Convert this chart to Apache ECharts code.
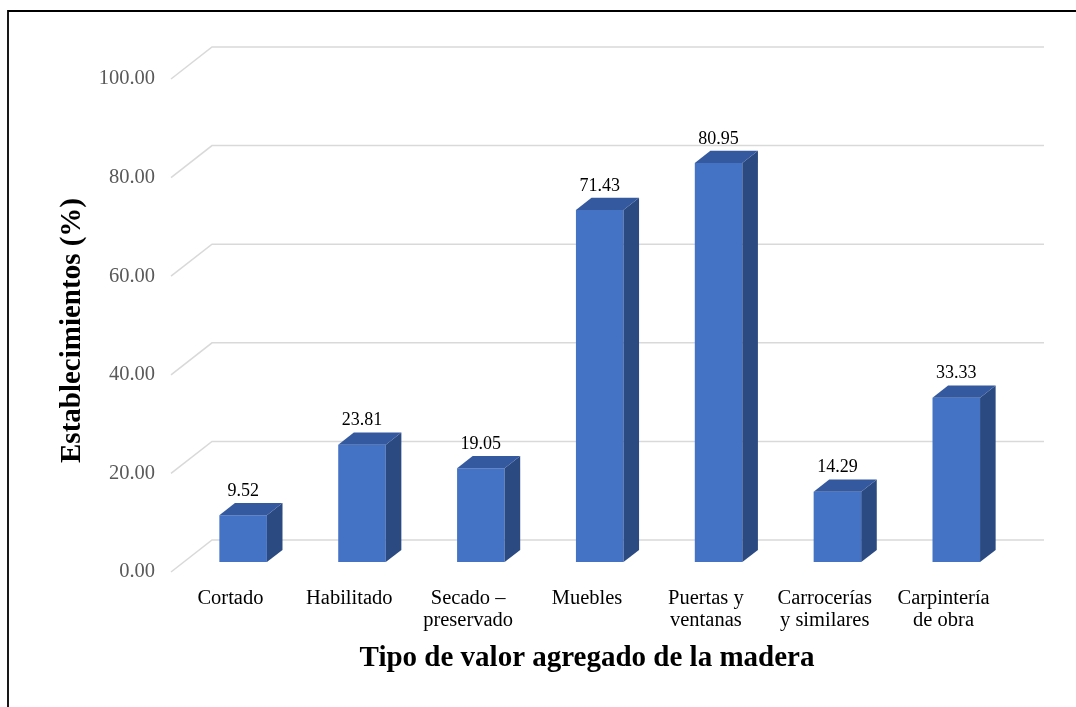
<!DOCTYPE html>
<html>
<head>
<meta charset="utf-8">
<script src="https://cdn.jsdelivr.net/npm/echarts@6/dist/echarts.min.js"></script>
<style>html,body{margin:0;padding:0;background:#fff;}#c{width:1076px;height:707px;}</style>
</head>
<body>
<div id="c"></div>
<script>
const categories = ['Cortado', 'Habilitado', 'Secado –\npreservado', 'Muebles', 'Puertas y\nventanas', 'Carrocerías\ny similares', 'Carpintería\nde obra'];
const values = [9.52, 23.81, 19.05, 71.43, 80.95, 14.29, 33.33];
const yTicks = [0, 20, 40, 60, 80, 100];
const yTitle = 'Establecimientos (%)';
const xTitle = 'Tipo de valor agregado de la madera';

const FONT = '"Liberation Serif", "Times New Roman", serif';
const DX = 41, DY = -32;           // depth of the 3D box
const F1 = 0.31, F2 = 0.69;        // bar front/back depth fractions

const chart = echarts.init(document.getElementById('c'));
chart.setOption({
  backgroundColor: '#fff',
  animation: false,
  graphic: [{
    type: 'rect', shape: { x: 8, y: 11, width: 1200, height: 800 },
    style: { fill: 'none', stroke: '#000', lineWidth: 1.8 }, silent: true, z: 100
  }],
  grid: { left: 171, top: 79, width: 832, height: 493 },
  xAxis: {
    type: 'category', data: categories,
    axisLine: { show: false }, axisTick: { show: false },
    axisLabel: { interval: 0, color: '#000', fontFamily: FONT, fontSize: 20.5, lineHeight: 22, margin: 16 },
    name: xTitle, nameLocation: 'middle', nameGap: 72,
    nameTextStyle: { fontFamily: FONT, fontSize: 29, fontWeight: 'bold', color: '#000' }
  },
  yAxis: {
    type: 'value', min: 0, max: 100, interval: 20,
    axisLine: { show: false }, axisTick: { show: false }, splitLine: { show: false },
    axisLabel: { color: '#595959', fontFamily: FONT, fontSize: 20.5, margin: 16, formatter: v => v.toFixed(2) },
    name: yTitle, nameLocation: 'middle', nameGap: 84, nameRotate: 90,
    nameTextStyle: { fontFamily: FONT, fontSize: 29, fontWeight: 'bold', color: '#000', padding: [0, 10, 0, 0] }
  },
  series: [{
    type: 'custom', silent: true, z: 1,
    data: yTicks.map(v => [0, v]),
    encode: { x: 0, y: 1 },
    renderItem: function (params, api) {
      const cs = params.coordSys;
      const y = api.coord([0, api.value(1)])[1];
      const l = cs.x, r = cs.x + cs.width;
      return {
        type: 'polyline',
        shape: { points: [[l, y], [l + DX, y + DY], [r + DX, y + DY]] },
        style: { stroke: '#d9d9d9', lineWidth: 1.5, fill: null }
      };
    }
  }, {
    type: 'custom', silent: true, z: 2,
    data: values.map((v, i) => [i, v]),
    encode: { x: 0, y: 1 },
    renderItem: function (params, api) {
      const i = api.value(0), v = api.value(1);
      const base = api.coord([i, 0]);
      const top = api.coord([i, v]);
      const w = api.size([1, 0])[0] * 0.4;
      const fx = base[0] - w / 2 + DX * F1, fy0 = base[1] + DY * F1, fy1 = top[1] + DY * F1;
      const bx = DX * (F2 - F1), by = DY * (F2 - F1);
      const x0 = fx, x1 = fx + w;
      return {
        type: 'group',
        children: [
          { type: 'polygon', shape: { points: [[x0, fy1], [x1, fy1], [x1, fy0], [x0, fy0]] }, style: { fill: '#4472c4' } },
          { type: 'polygon', shape: { points: [[x1, fy1], [x1 + bx, fy1 + by], [x1 + bx, fy0 + by], [x1, fy0]] }, style: { fill: '#2b4a82' } },
          { type: 'polygon', shape: { points: [[x0, fy1], [x0 + bx, fy1 + by], [x1 + bx, fy1 + by], [x1, fy1]] }, style: { fill: '#34599f' } },
          { type: 'text', x: (x0 + x1) / 2, y: fy1 + by - 3,
            style: { text: v.toFixed(2), fill: '#000', font: '18px ' + FONT, align: 'center', verticalAlign: 'bottom' } }
        ]
      };
    }
  }]
});
</script>
</body>
</html>
